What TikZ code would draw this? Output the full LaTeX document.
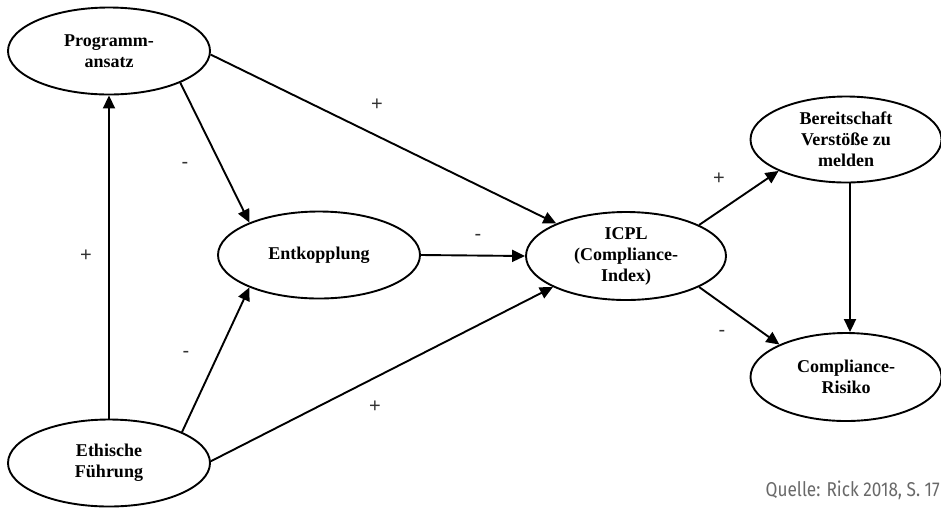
\documentclass[tikz,border=0pt]{standalone}
\usepackage{fontspec}
\setmainfont{Liberation Serif}
\newfontfamily\signfont{Liberation Sans}
\newfontfamily\notefont[FakeStretch=0.86]{Fira Sans}
\usetikzlibrary{shapes.geometric,arrows.meta}

\definecolor{notegray}{RGB}{105,105,105}
\definecolor{signgray}{RGB}{50,50,50}

\tikzset{
  ell/.style={ellipse, draw, line width=1.9pt, inner sep=0pt,
              minimum width=202pt, minimum height=87pt},
  ellR/.style={ell, minimum width=191pt},
  ntext/.style={font=\fontsize{18}{21}\selectfont\bfseries, align=center},
  link/.style={line width=1.9pt, -{Triangle[length=13pt,width=12pt]}},
  sign/.style={font=\signfont\fontsize{20}{20}\selectfont, text=signgray, inner sep=0pt},
}

\begin{document}
\begin{tikzpicture}[x=1pt, y=-1pt]
  \useasboundingbox (0,0) rectangle (941,507);

  % constructs
  \node[ell, label={[ntext]center:Programm-\\ansatz}] (P) at (109,51) {};
  \node[ell, label={[ntext]center:Ethische\\Führung}] (E) at (109,463) {};
  \node[ell, label={[ntext]center:Entkopplung}] (K) at (319,255) {};
  \node[ell, minimum width=200pt, minimum height=88pt,
        label={[ntext]center:ICPL\\(Compliance-\\Index)}] (I) at (626,256) {};
  \node[ellR, minimum height=86pt,
        label={[ntext]center:Bereitschaft\\Verstöße zu\\melden}] (B) at (846,139.5) {};
  \node[ellR, minimum height=88pt,
        label={[ntext]center:Compliance-\\Risiko}] (R) at (846,377) {};

  % paths
  \draw[link] (E.north) -- (P.south);
  \draw[link] (P.-24.3) -- (K.155.7);
  \draw[link] (E.23.6) -- (K.205);
  \draw[link] (P.-2) -- (I.155.7);
  \draw[link] (K.east) -- (I.west);
  \draw[link] (E.1) -- (I.203);
  \draw[link] (I.23.3) -- (B.205.5);
  \draw[link] (I.-23.6) -- (R.154.8);
  \coordinate (vx) at (850,0);
  \draw[link] (B.south -| vx) -- (R.north -| vx);

  % signs of the effects
  \node[sign] (s1) at (377,105) {+};
  \node[sign] (s2) at (185,165) {-};
  \node[sign] (s3) at (86,256) {+};
  \node[sign] (s4) at (478,237) {-};
  \node[sign] (s5) at (186,354) {-};
  \node[sign] (s6) at (375,407) {+};
  \node[sign] (s7) at (719,179) {+};
  \node[sign] (s8) at (722,333) {-};

  % source
  \node[anchor=base east, inner sep=0pt, text=notegray,
        font=\notefont\fontsize{20}{20}\selectfont] (src) at (940,496)
        {Quelle: Rick 2018, S. 17};
\end{tikzpicture}
\end{document}
